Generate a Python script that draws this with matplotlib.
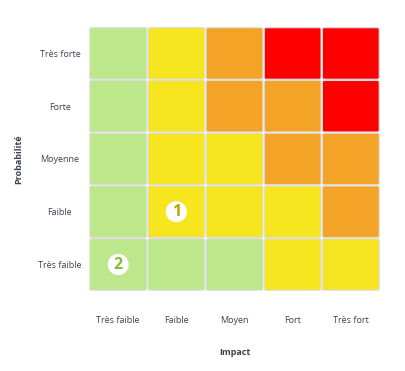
import matplotlib
matplotlib.use("Agg")
import matplotlib.pyplot as plt
from matplotlib.patches import FancyBboxPatch
import numpy as np

impact = ["Très faible", "Faible", "Moyen", "Fort", "Très fort"]
proba = ["Très faible", "Faible", "Moyenne", "Forte", "Très forte"]
# risk level per cell, rows = probabilité (bottom -> top), cols = impact
levels = [
    [0, 0, 0, 1, 1],
    [0, 1, 1, 1, 2],
    [0, 1, 1, 2, 2],
    [0, 1, 2, 2, 3],
    [0, 1, 2, 3, 3],
]
level_colors = ["#bde78b", "#f7e51f", "#f3a426", "#fe0000"]
# numbered risks: (impact index, probabilité index, label, text colour)
risk_x = [1, 0]
risk_y = [1, 0]
risk_lbl = ["1", "2"]
risk_col = ["#b9a700", "#7dbf3c"]

plt.rcParams["font.family"] = ["Open Sans", "DejaVu Sans"]
INK2 = "#3b4150"

fig = plt.figure(figsize=(4.05, 3.71), dpi=100)
ax = fig.add_axes([0.22, 0.216, 0.718, 0.711])
ax.set_xlim(0, 5); ax.set_ylim(0, 5)

for r, row in enumerate(levels):
    for c, lv in enumerate(row):
        ax.add_patch(FancyBboxPatch((c + 0.012, r + 0.012), 0.976, 0.976,
                                    boxstyle="round,pad=0,rounding_size=0.03",
                                    fc=level_colors[lv], ec="#dcdcdc", lw=0.8))

ax.scatter(np.array(risk_x) + 0.5, np.array(risk_y) + 0.5, s=230, c="white",
           edgecolors="none", zorder=3)
for x, y, t, col in zip(risk_x, risk_y, risk_lbl, risk_col):
    ax.text(x + 0.5, y + 0.49, t, ha="center", va="center", fontsize=11.5,
            fontweight="bold", color=col, zorder=4)

ax.set_xticks(np.arange(5) + 0.5); ax.set_xticklabels(impact)
ax.set_yticks(np.arange(5) + 0.5); ax.set_yticklabels(proba, ha="center")
ax.tick_params(length=0, labelsize=6.5, colors=INK2)
ax.tick_params(axis="x", pad=18)
ax.tick_params(axis="y", pad=21)
for s in ax.spines.values(): s.set_visible(False)
ax.set_xlabel("Impact", fontsize=6.5, fontweight="bold", color=INK2, labelpad=17)
ax.set_ylabel("Probabilité", fontsize=6.5, fontweight="bold", color=INK2, labelpad=11)

fig.savefig("out.png", dpi=100, facecolor="white")
